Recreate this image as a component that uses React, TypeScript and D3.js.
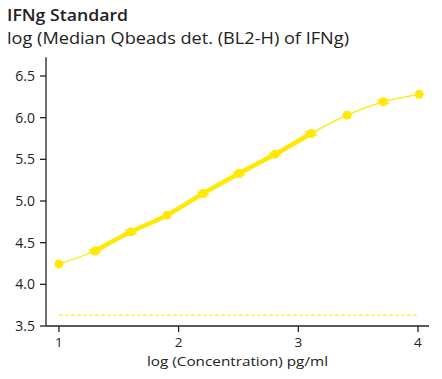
import React from "react";
import * as d3 from "d3";

const logConc = [1.0, 1.301, 1.602, 1.903, 2.204, 2.505, 2.806, 3.107, 3.408, 3.709, 4.01];
const logSignal = [4.245, 4.40, 4.63, 4.83, 5.09, 5.33, 5.56, 5.81, 6.03, 6.19, 6.28];
const signalErr = [0.0, 0.015, 0.02, 0.0, 0.015, 0.015, 0.015, 0.02, 0.0, 0.02, 0.0];
const linearRange = [1, 7];
const blankLevel = 3.63;
const xTicks = [1, 2, 3, 4];
const yTicks = [3.5, 4.0, 4.5, 5.0, 5.5, 6.0, 6.5];

const W = 442;
const H = 379;
const COLOR = "#FFE900";
const FONT = "'Open Sans', sans-serif";

export default function App() {
  const left = 46;
  const right = 429;
  const bottom = 326;
  const x = d3.scaleLinear().domain([0.892, 4.092]).range([left, right]);
  const y = d3.scaleLinear().domain([3.5, 6.7]).range([bottom, bottom - 3.2 * 83.33]);

  const pts = logConc.map((c, i) => [x(c), y(logSignal[i])] as [number, number]);
  const line = d3.line<[number, number]>().curve(d3.curveMonotoneX);
  const thin = line(pts) || "";
  const thick = line(pts.slice(linearRange[0], linearRange[1] + 1)) || "";

  return (
    <svg width={W} height={H} style={{ position: "absolute", left: 0, top: 0 }} fontFamily={FONT}>
      <rect width={W} height={H} fill="#fff" />
      <text x={7} y={21} fontSize={16} fontWeight={600} fill="#222" textLength={121} lengthAdjust="spacingAndGlyphs">IFNg Standard</text>
      <text x={7} y={44} fontSize={16} fill="#222" textLength={342} lengthAdjust="spacingAndGlyphs">log (Median Qbeads det. (BL2-H) of IFNg)</text>

      {/* axes */}
      <line x1={left} x2={left} y1={y(6.7) - 2} y2={bottom} stroke="#222" strokeWidth={1.3} />
      <line x1={left} x2={right} y1={bottom} y2={bottom} stroke="#222" strokeWidth={1.3} />
      {yTicks.map((t) => (
        <g key={"y" + t}>
          <line x1={left - 6} x2={left} y1={y(t)} y2={y(t)} stroke="#222" strokeWidth={1.3} />
          <text x={left - 11} y={y(t)} dy="0.36em" textAnchor="end" fontSize={14} fill="#222">
            {t.toFixed(1)}
          </text>
        </g>
      ))}
      {xTicks.map((t) => (
        <g key={"x" + t}>
          <line x1={x(t)} x2={x(t)} y1={bottom} y2={bottom + 6} stroke="#222" strokeWidth={1.3} />
          <text x={x(t)} y={bottom + 21} textAnchor="middle" fontSize={13.5} fill="#222">
            {t}
          </text>
        </g>
      ))}
      <text x={(left + right) / 2} y={366} textAnchor="middle" fontSize={13.5} fill="#222" textLength={181} lengthAdjust="spacingAndGlyphs">
        log (Concentration) pg/ml
      </text>

      {/* blank level */}
      <line x1={x(1)} x2={x(4)} y1={y(blankLevel)} y2={y(blankLevel)} stroke={COLOR} strokeWidth={1} strokeDasharray="4,2" />

      {/* fit */}
      <path d={thin} fill="none" stroke={COLOR} strokeWidth={1.3} />
      <path d={thick} fill="none" stroke={COLOR} strokeWidth={4.5} />

      {/* error bars */}
      {pts.map(([px], i) =>
        signalErr[i] > 0 ? (
          <g key={"e" + i} stroke={COLOR} strokeWidth={1.5}>
            <line x1={px - 6} x2={px + 6} y1={y(logSignal[i] + signalErr[i])} y2={y(logSignal[i] + signalErr[i])} />
            <line x1={px - 6} x2={px + 6} y1={y(logSignal[i] - signalErr[i])} y2={y(logSignal[i] - signalErr[i])} />
          </g>
        ) : null
      )}
      {pts.map(([px, py], i) => (
        <circle key={"p" + i} cx={px} cy={py} r={4.5} fill={COLOR} />
      ))}
    </svg>
  );
}
